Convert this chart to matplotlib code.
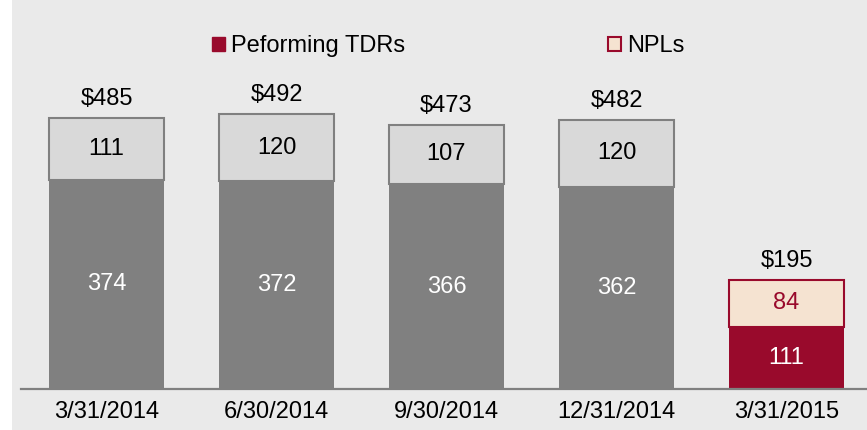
import matplotlib.pyplot as plt
from matplotlib.patches import Patch, Rectangle

# data ($ millions)
dates = ["3/31/2014", "6/30/2014", "9/30/2014", "12/31/2014", "3/31/2015"]
performing = [374, 372, 366, 362, 111]
npls = [111, 120, 107, 120, 84]
totals = ["$485", "$492", "$473", "$482", "$195"]

plt.rcParams["font.family"] = ["Liberation Sans", "DejaVu Sans"]

bg = "#EAEAEA"
grey_dark = "#808080"
grey_light = "#D9D9D9"
red_dark = "#990A2C"
red_light = "#F5E3D1"

W, H = 867, 430
fig = plt.figure(figsize=(W / 100, H / 100), dpi=100)
fig.patch.set_facecolor("white")
fig.patches.append(Rectangle((12 / W, 0), 1 - 12 / W, 1, transform=fig.transFigure,
                             facecolor=bg, edgecolor="none", zorder=-10))

ax = fig.add_axes([21 / W, (H - 389) / H, 1 - 21 / W, 389 / H])
ax.set_facecolor("none")

x = list(range(len(dates)))
width = 115 / 170
n = len(dates)
bot_colors = [grey_dark] * (n - 1) + [red_dark]
top_colors = [grey_light] * (n - 1) + [red_light]
top_edges = [grey_dark] * (n - 1) + [red_dark]

ax.bar(x, performing, width, color=bot_colors, edgecolor="none")
ax.bar(x, npls, width, bottom=performing, color=top_colors,
       edgecolor=top_edges, linewidth=1.5)

for i in x:
    ax.text(i, performing[i] / 2, str(performing[i]), ha="center", va="center",
            fontsize=17, color="white")
    ax.text(i, performing[i] + npls[i] / 2, str(npls[i]), ha="center", va="center",
            fontsize=17, color=red_dark if i == n - 1 else "black")
    ax.annotate(totals[i], (i, performing[i] + npls[i]), xytext=(0, 13.5),
                textcoords="offset points", ha="center", va="center", fontsize=17)

ax.set_xlim((21 - 106.5) / 170, (W - 106.5) / 170)
ax.set_ylim(0, 389 / 0.559)
ax.set_xticks(x)
ax.set_xticklabels(dates, fontsize=17)
ax.tick_params(axis="x", length=0, pad=9)
ax.set_yticks([])
for s in ["top", "left", "right"]:
    ax.spines[s].set_visible(False)
ax.spines["bottom"].set_color(grey_dark)
ax.spines["bottom"].set_linewidth(1.6)

handles = [Patch(facecolor=red_dark, edgecolor=red_dark),
           Patch(facecolor=red_light, edgecolor=red_dark, linewidth=1.5)]
fig.legend(handles, ["Peforming TDRs", "NPLs"], loc="center left",
           bbox_to_anchor=(212 / W, 1 - 46 / H), ncol=2, frameon=False,
           fontsize=17, handlelength=0.55, handleheight=0.55,
           handletextpad=0.25, columnspacing=8.6, borderpad=0, borderaxespad=0)

fig.savefig("out.png", dpi=100, facecolor=fig.get_facecolor())
